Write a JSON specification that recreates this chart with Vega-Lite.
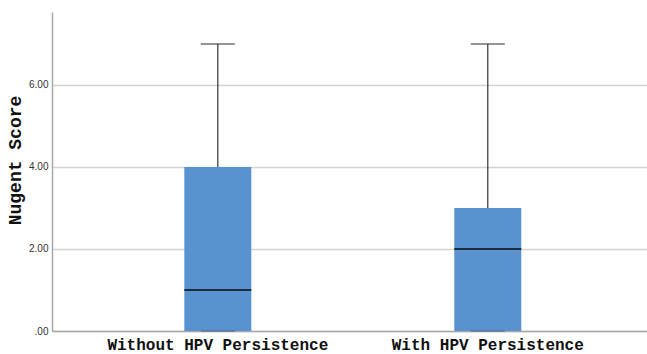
{
  "$schema": "https://vega.github.io/schema/vega-lite/v6.json",
  "width": 595,
  "height": 319,
  "autosize": {"type": "none"},
  "padding": {"left": 52, "top": 12, "right": 0, "bottom": 23},
  "background": "white",
  "config": {"view": {"stroke": null}},
  "data": {
    "values": [
      {"group": "Without HPV Persistence", "min": 0, "q1": 0, "median": 1, "q3": 4, "max": 7},
      {"group": "With HPV Persistence", "min": 0, "q1": 0, "median": 2, "q3": 3, "max": 7}
    ]
  },
  "encoding": {
    "x": {
      "field": "group",
      "type": "nominal",
      "sort": null,
      "scale": {"type": "band", "paddingInner": 0, "paddingOuter": 0.102, "align": 0.56},
      "axis": {
        "title": null,
        "labelAngle": 0,
        "labelFont": "Liberation Mono",
        "labelFontWeight": "bold",
        "labelFontSize": 16,
        "labelColor": "#111111",
        "labelPadding": 5,
        "labelLimit": 0,
        "labelOverlap": false,
        "labelExpr": "indexof(datum.label, 'Without') >= 0 ? datum.label + '\u00a0\u00a0' : datum.label",
        "ticks": false,
        "domainColor": "#a8a8a8",
        "domainWidth": 1.5,
        "grid": false
      }
    }
  },
  "layer": [
    {
      "mark": {"type": "rule", "color": "#333333", "strokeWidth": 1.2},
      "encoding": {
        "y": {
          "field": "min",
          "type": "quantitative",
          "scale": {"domain": [0, 7.78], "nice": false, "zero": true},
          "axis": {
            "title": "Nugent Score",
            "titleFont": "Liberation Mono",
            "titleFontWeight": "bold",
            "titleFontSize": 18,
            "titleColor": "#111111",
            "titlePadding": 4,
            "titleY": 148,
            "values": [0, 2, 4, 6],
            "labelExpr": "datum.value == 0 ? '.00' : format(datum.value, '.2f')",
            "labelFont": "Liberation Sans",
            "labelFontSize": 10,
            "labelColor": "#333333",
            "labelPadding": 4,
            "ticks": false,
            "domainColor": "#a8a8a8",
            "domainWidth": 1.5,
            "grid": true,
            "gridColor": "#d4d4d4",
            "gridWidth": 1.5
          }
        },
        "y2": {"field": "max"}
      }
    },
    {
      "mark": {"type": "bar", "size": 67, "color": "#5893d0"},
      "encoding": {
        "y": {"field": "q1", "type": "quantitative"},
        "y2": {"field": "q3"}
      }
    },
    {
      "mark": {"type": "tick", "size": 67, "thickness": 2, "color": "#000000"},
      "encoding": {"y": {"field": "median", "type": "quantitative"}}
    },
    {
      "mark": {"type": "tick", "size": 34, "thickness": 1.5, "color": "#333333"},
      "encoding": {"y": {"field": "max", "type": "quantitative"}}
    },
    {
      "mark": {"type": "tick", "size": 34, "thickness": 1.5, "color": "#4a6a8f"},
      "encoding": {"y": {"field": "min", "type": "quantitative"}}
    }
  ]
}
